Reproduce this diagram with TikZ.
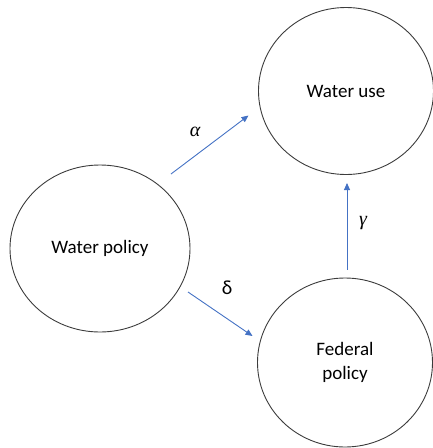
\documentclass[tikz,border=0pt]{standalone}
\usepackage{fontspec}
\setmainfont{Carlito}
\newfontfamily\greekit{Liberation Serif}
\usetikzlibrary{shapes.geometric,arrows.meta}
\definecolor{linkblue}{RGB}{68,114,196}
\definecolor{rimgray}{RGB}{60,60,60}
\tikzset{
  bubble/.style={ellipse, draw=rimgray, line width=0.9pt, align=center,
    font=\fontsize{19}{24}\selectfont},
  link/.style={draw=linkblue, line width=0.9pt, -{Triangle[length=7pt,width=6pt]}},
  coef/.style={font=\fontsize{20}{24}\selectfont}
}
\begin{document}
\begin{tikzpicture}[x=1pt,y=-1pt]
  \useasboundingbox (0,0) rectangle (433,448);
  % constructs
  \node[bubble, minimum width=175pt, minimum height=167pt] (use) at (346,91) {Water use};
  \node[bubble, minimum width=180pt, minimum height=167pt] (wpol) at (100,248.5) {Water policy};
  \node[bubble, minimum width=175pt, minimum height=169pt] (fed) at (345,362.5) {Federal\\policy};
  % arrow end points
  \coordinate (a0) at (171,174);  \coordinate (a1) at (248.5,115.5);
  \coordinate (d0) at (188,292);  \coordinate (d1) at (252.5,336);
  \coordinate (g0) at (347,269.5);\coordinate (g1) at (347,183);
  % paths
  \draw[link] (a0) -- (a1);
  \draw[link] (d0) -- (d1);
  \draw[link] (g0) -- (g1);
  % path coefficients
  \node[coef] (la) at (195,132) {\greekit\itshape α};
  \node[coef] (ld) at (227,288) {δ};
  \node[coef] (lg) at (363,223) {\greekit\itshape γ};
\end{tikzpicture}
\end{document}
